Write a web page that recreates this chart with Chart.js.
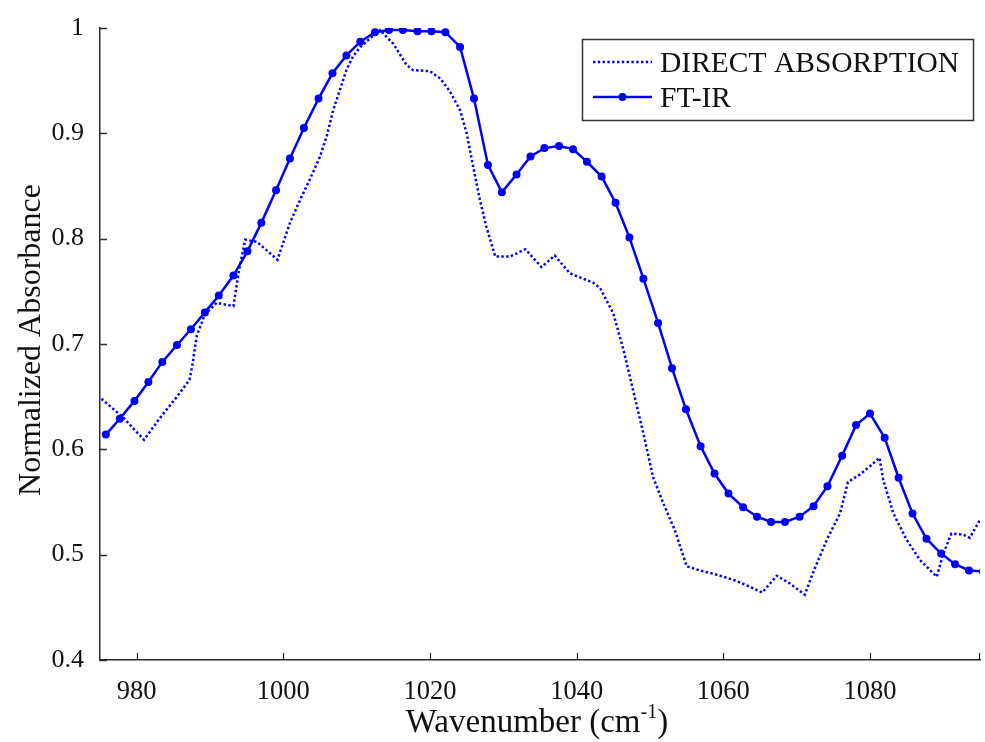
<!DOCTYPE html>
<html>
<head>
<meta charset="utf-8">
<script src="https://cdn.jsdelivr.net/npm/chart.js@4.4.1/dist/chart.umd.min.js"></script>
<style>
  html, body { margin: 0; padding: 0; background: #fff; }
  #wrap { width: 985px; height: 742px; position: relative; }
</style>
</head>
<body>
<div id="wrap"><canvas id="spectra" width="985" height="742"></canvas></div>
<script>
// Axis ticks
const xTicks = [980, 1000, 1020, 1040, 1060, 1080];
const yTicks = [0.4, 0.5, 0.6, 0.7, 0.8, 0.9, 1];

// FT-IR spectrum (wavenumber, normalized absorbance)
const ftirX = [
  975.8, 977.7, 979.7, 981.6, 983.5, 985.5, 987.4, 989.3, 991.2, 993.2,
  995.1, 997.0, 999.0, 1000.9, 1002.8, 1004.8, 1006.7, 1008.6, 1010.5, 1012.5,
  1014.4, 1016.3, 1018.3, 1020.2, 1022.1, 1024.1, 1026.0, 1027.9, 1029.8, 1031.8,
  1033.7, 1035.6, 1037.6, 1039.5, 1041.4, 1043.4, 1045.3, 1047.2, 1049.1, 1051.1,
  1053.0, 1054.9, 1056.9, 1058.8, 1060.7, 1062.7, 1064.6, 1066.5, 1068.4, 1070.4,
  1072.3, 1074.2, 1076.2, 1078.1, 1080.0, 1082.0, 1083.9, 1085.8, 1087.7, 1089.7,
  1091.6, 1093.5, 1095.4
];
const ftirY = [
  0.614, 0.629, 0.646, 0.664, 0.683, 0.699, 0.714, 0.730, 0.746, 0.765,
  0.788, 0.815, 0.846, 0.876, 0.905, 0.933, 0.957, 0.974, 0.987, 0.996,
  0.998, 0.998, 0.997, 0.997, 0.996, 0.982, 0.933, 0.870, 0.844, 0.861,
  0.878, 0.886, 0.888, 0.885, 0.873, 0.859, 0.834, 0.801, 0.762, 0.720,
  0.677, 0.638, 0.603, 0.577, 0.558, 0.545, 0.536, 0.531, 0.531, 0.536,
  0.546, 0.565, 0.594, 0.623, 0.634, 0.611, 0.573, 0.539, 0.515, 0.501,
  0.491, 0.485, 0.484
];

// Direct absorption spectrum
const directX = [
  975.2, 978.2, 981.0, 983.2, 985.5, 987.2, 987.6, 988.2, 989.3, 990.9,
  993.2, 993.9, 994.8, 996.4, 999.2, 1000.9, 1002.3, 1003.6, 1005.0, 1005.9,
  1006.8, 1007.7, 1008.6, 1009.5, 1010.5, 1011.8, 1013.2, 1015.0, 1016.8, 1017.7,
  1020.0, 1021.4, 1022.7, 1024.1, 1025.0, 1025.9, 1026.8, 1027.7, 1028.9, 1030.9,
  1033.0, 1035.2, 1037.0, 1039.1, 1042.3, 1043.2, 1045.0, 1046.4, 1047.7, 1049.1,
  1050.4, 1051.8, 1053.4, 1055.0, 1056.8, 1059.1, 1061.4, 1063.5, 1065.3, 1067.3,
  1069.0, 1071.1, 1072.3, 1074.1, 1075.9, 1077.0, 1078.6, 1080.0, 1081.3, 1081.8,
  1083.2, 1085.0, 1086.8, 1089.1, 1090.0, 1091.1, 1092.7, 1093.6, 1095.0
];
const directY = [
  0.648, 0.630, 0.609, 0.630, 0.650, 0.666, 0.680, 0.708, 0.728, 0.739,
  0.736, 0.768, 0.799, 0.797, 0.780, 0.815, 0.837, 0.856, 0.878, 0.897,
  0.922, 0.941, 0.960, 0.973, 0.982, 0.990, 0.998, 0.985, 0.965, 0.960,
  0.959, 0.952, 0.940, 0.922, 0.900, 0.868, 0.837, 0.811, 0.783, 0.783,
  0.790, 0.773, 0.784, 0.767, 0.758, 0.753, 0.729, 0.694, 0.656, 0.615,
  0.574, 0.549, 0.523, 0.489, 0.485, 0.481, 0.476, 0.470, 0.464, 0.480,
  0.473, 0.462, 0.484, 0.514, 0.539, 0.569, 0.576, 0.584, 0.592, 0.571,
  0.539, 0.514, 0.495, 0.479, 0.501, 0.520, 0.519, 0.516, 0.533
];

const BLUE = 'rgb(0,0,255)';
const AXIS = '#2b2b2b';
const SERIF = '"Liberation Serif", "Times New Roman", serif';

// inward tick marks, axis titles and the boxed legend
const decorations = {
  id: 'decorations',
  afterDraw(chart) {
    const { ctx, chartArea: a, scales } = chart;
    ctx.save();
    ctx.strokeStyle = AXIS;
    ctx.lineWidth = 1.3;
    ctx.beginPath();
    xTicks.forEach(v => {
      const px = Math.round(scales.x.getPixelForValue(v)) + 0.5;
      ctx.moveTo(px, a.bottom);
      ctx.lineTo(px, a.bottom - 7);
    });
    ctx.moveTo(a.right - 0.5, a.bottom);
    ctx.lineTo(a.right - 0.5, a.bottom - 7);
    yTicks.forEach(v => {
      const py = Math.round(scales.y.getPixelForValue(v)) + 0.5;
      ctx.moveTo(a.left, py);
      ctx.lineTo(a.left + 7, py);
    });
    ctx.stroke();

    // x title with superscript
    ctx.fillStyle = '#111';
    ctx.textBaseline = 'alphabetic';
    const main = 'Wavenumber (cm';
    const sup = '-1';
    ctx.font = '33px ' + SERIF;
    const wMain = ctx.measureText(main).width;
    const wClose = ctx.measureText(')').width;
    ctx.font = '20px ' + SERIF;
    const wSup = ctx.measureText(sup).width;
    const cx = (a.left + a.right) / 2 - 3;
    let tx = cx - (wMain + wSup + wClose) / 2;
    const base = 732;
    ctx.font = '33px ' + SERIF;
    ctx.textAlign = 'left';
    ctx.fillText(main, tx, base);
    ctx.font = '20px ' + SERIF;
    ctx.fillText(sup, tx + wMain, base - 14);
    ctx.font = '33px ' + SERIF;
    ctx.fillText(')', tx + wMain + wSup, base);

    // y title
    ctx.save();
    ctx.translate(40, (a.top + a.bottom) / 2 - 4);
    ctx.rotate(-Math.PI / 2);
    ctx.textAlign = 'center';
    ctx.font = '32px ' + SERIF;
    ctx.fillText('Normalized Absorbance', 0, 0);
    ctx.restore();

    // legend
    const bx = 582.5, by = 39.5, bw = 391, bh = 81;
    ctx.fillStyle = '#fff';
    ctx.fillRect(bx, by, bw, bh);
    ctx.strokeStyle = '#333';
    ctx.lineWidth = 1.5;
    ctx.strokeRect(bx, by, bw, bh);

    const sx0 = 593, sx1 = 652;
    const rows = [
      { label: 'DIRECT ABSORPTION', y: 62, dash: [2.4, 2.4], marker: false },
      { label: 'FT-IR', y: 97, dash: [], marker: true }
    ];
    rows.forEach(r => {
      ctx.strokeStyle = BLUE;
      ctx.lineWidth = 2.5;
      ctx.setLineDash(r.dash);
      ctx.beginPath();
      ctx.moveTo(sx0, r.y);
      ctx.lineTo(sx1, r.y);
      ctx.stroke();
      ctx.setLineDash([]);
      if (r.marker) {
        ctx.fillStyle = BLUE;
        ctx.beginPath();
        ctx.arc((sx0 + sx1) / 2, r.y, 4, 0, Math.PI * 2);
        ctx.fill();
      }
      ctx.fillStyle = '#111';
      ctx.font = '29.5px ' + SERIF;
      ctx.textAlign = 'left';
      ctx.textBaseline = 'middle';
      ctx.fillText(r.label, 660, r.y + 2);
    });
    ctx.restore();
  }
};

const chart = new Chart(document.getElementById('spectra'), {
  type: 'line',
  data: {
    datasets: [
      {
        label: 'DIRECT ABSORPTION',
        data: directX.map((x, i) => ({ x, y: directY[i] })),
        borderColor: BLUE,
        borderWidth: 2.5,
        borderDash: [2.4, 2.4],
        pointRadius: 0,
        tension: 0,
        fill: false
      },
      {
        label: 'FT-IR',
        data: ftirX.map((x, i) => ({ x, y: ftirY[i] })),
        borderColor: BLUE,
        backgroundColor: BLUE,
        borderWidth: 2.5,
        pointRadius: 4,
        pointBorderWidth: 0,
        pointBackgroundColor: BLUE,
        tension: 0,
        fill: false
      }
    ]
  },
  options: {
    responsive: false,
    animation: false,
    layout: { padding: { top: 28, right: 5, left: 0, bottom: 0 } },
    plugins: {
      legend: { display: false },
      tooltip: { enabled: false }
    },
    scales: {
      x: {
        type: 'linear',
        min: 975,
        max: 1095,
        afterBuildTicks: s => { s.ticks = xTicks.map(v => ({ value: v })); },
        afterFit: s => { s.height = 82; },
        grid: { display: false },
        border: { display: true, color: AXIS, width: 1.5 },
        ticks: {
          padding: 8,
          color: '#111',
          maxRotation: 0,
          font: { family: SERIF, size: 26.5 },
          callback: v => String(v)
        }
      },
      y: {
        min: 0.4,
        max: 1,
        afterBuildTicks: s => { s.ticks = yTicks.map(v => ({ value: v })); },
        afterFit: s => { s.width = 100; },
        grid: { display: false },
        border: { display: true, color: AXIS, width: 1.5 },
        ticks: {
          padding: 8,
          color: '#111',
          font: { family: SERIF, size: 26 },
          callback: v => String(v)
        }
      }
    }
  },
  plugins: [decorations]
});
</script>
</body>
</html>
